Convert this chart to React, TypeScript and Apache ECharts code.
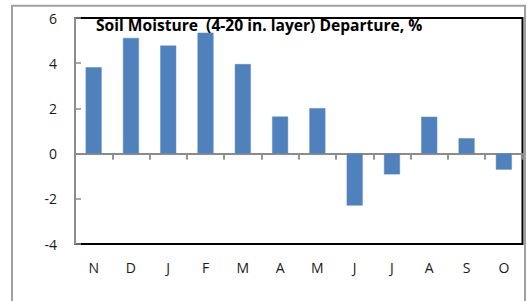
import React, { useEffect, useRef } from "react";
import * as echarts from "echarts";

const categories = ["N", "D", "J", "F", "M", "A", "M", "J", "J", "A", "S", "O"];
const departure = [3.82, 5.12, 4.78, 5.35, 3.96, 1.64, 2.01, -2.3, -0.92, 1.63, 0.68, -0.71];
const yTicks = { min: -4, max: 6, interval: 2 };
const title = "Soil Moisture  (4-20 in. layer) Departure, %";

export default function App() {
  const ref = useRef<HTMLDivElement>(null);
  useEffect(() => {
    if (!ref.current) return;
    const chart = echarts.init(ref.current, undefined, { renderer: "svg" });
    const font = "'Open Sans', 'Noto Sans', sans-serif";
    const catAxisBase = {
      type: "category" as const,
      data: categories,
      boundaryGap: true,
    };
    chart.setOption({
      animation: false,
      backgroundColor: "#ffffff",
      grid: {
        left: 75,
        top: 18,
        right: 4.5,
        bottom: 57,
        show: true,
        borderColor: "#000000",
        borderWidth: 2,
        backgroundColor: "transparent",
      },
      graphic: [
        {
          type: "rect",
          shape: { x: 12, y: 5.7, width: 513, height: 400 },
          style: { fill: "none", stroke: "#a0a0a0", lineWidth: 2 },
          silent: true,
          z: -10,
        },
        {
          type: "text",
          left: 96,
          top: 17,
          style: {
            text: title,
            fontFamily: font,
            fontWeight: "bold",
            fontSize: 15.6,
            fill: "#000000",
          },
          z: 100,
        },
      ],
      xAxis: [
        {
          ...catAxisBase,
          axisLine: { show: true, onZero: true, onZeroAxisIndex: 0, lineStyle: { color: "#8c8c8c", width: 2 } },
          axisTick: { show: true, inside: false, length: 6, lineStyle: { color: "#8c8c8c", width: 1.5 } },
          axisLabel: { show: false },
          splitLine: { show: false },
        },
        {
          ...catAxisBase,
          axisLine: { show: true, onZero: true, onZeroAxisIndex: 0, lineStyle: { color: "#8c8c8c", width: 2 } },
          axisTick: { show: true, inside: true, length: 6, lineStyle: { color: "#8c8c8c", width: 1.5 } },
          axisLabel: { show: false },
          splitLine: { show: false },
        },
        {
          ...catAxisBase,
          position: "bottom",
          axisLine: { show: false, onZero: false },
          axisTick: { show: false },
          axisLabel: { show: true, margin: 16, fontFamily: font, fontSize: 14, color: "#1a1a1a" },
          splitLine: { show: false },
        },
      ],
      yAxis: {
        type: "value",
        min: yTicks.min,
        max: yTicks.max,
        interval: yTicks.interval,
        axisLine: { show: true, onZero: false, lineStyle: { color: "#8c8c8c", width: 2 } },
        axisTick: { show: true, inside: true, length: 6, lineStyle: { color: "#8c8c8c", width: 1.5 } },
        axisLabel: { margin: 18, fontFamily: font, fontSize: 14, color: "#1a1a1a" },
        splitLine: { show: false },
      },
      series: [
        {
          type: "bar",
          xAxisIndex: 0,
          data: departure,
          barWidth: 16,
          itemStyle: { color: "#4f81bd", borderColor: "#5a8ac4", borderWidth: 0.5 },
          z: 1,
        },
      ],
    });
    return () => chart.dispose();
  }, []);
  return (
    <div
      ref={ref}
      style={{ position: "fixed", left: 0, top: 0, width: 527, height: 301 }}
    />
  );
}
